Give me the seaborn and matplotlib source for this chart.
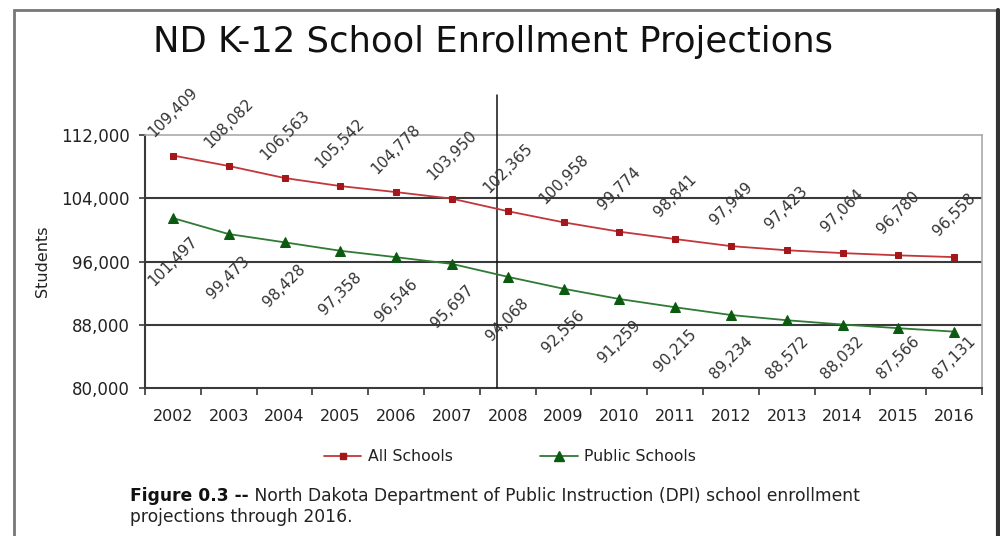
import matplotlib
matplotlib.use("Agg")
import matplotlib.pyplot as plt
from matplotlib.patches import Rectangle
from matplotlib.lines import Line2D
from matplotlib.ticker import FuncFormatter, FixedLocator
import seaborn as sns
import pandas as pd

# Enrollment data (actual through 2007, projected afterwards)
years = [2002, 2003, 2004, 2005, 2006, 2007, 2008, 2009,
         2010, 2011, 2012, 2013, 2014, 2015, 2016]
all_schools = [109409, 108082, 106563, 105542, 104778, 103950, 102365, 100958,
               99774, 98841, 97949, 97423, 97064, 96780, 96558]
public_schools = [101497, 99473, 98428, 97358, 96546, 95697, 94068, 92556,
                  91259, 90215, 89234, 88572, 88032, 87566, 87131]
y_ticks = [80000, 88000, 96000, 104000, 112000]
projection_start = 2007.8

title = "ND K-12 School Enrollment Projections"
y_label = "Students"
series_names = ["All Schools", "Public Schools"]
caption_bold = "Figure 0.3 --"
caption_rest = " North Dakota Department of Public Instruction (DPI) school enrollment"
caption_line2 = "projections through 2016."

red_line, red_mark = "#c2373a", "#a3161a"
green_line, green_mark = "#2f7a34", "#0b5a10"
label_color = "#333333"

sns.set_theme(style="white")
plt.rcParams["font.family"] = ["DejaVu Sans"]

df = pd.DataFrame({"year": years, "all": all_schools, "public": public_schools})

fig = plt.figure(figsize=(10, 5.36), dpi=100)
ax = fig.add_axes([0.145, 0.2761, 0.837, 0.472])

sns.lineplot(data=df, x="year", y="all", ax=ax, color=red_line, lw=1.3,
             marker="s", markersize=5, markerfacecolor=red_mark,
             markeredgecolor=red_mark, zorder=4)
sns.lineplot(data=df, x="year", y="public", ax=ax, color=green_line, lw=1.3,
             marker="^", markersize=7.5, markerfacecolor=green_mark,
             markeredgecolor=green_mark, zorder=4)

ax.set_xlim(2001.5, 2016.5)
ax.set_ylim(y_ticks[0], y_ticks[-1])

# gridlines drawn at the inner tick values
for v in y_ticks[1:-1]:
    ax.axhline(v, color="#3a3a3a", lw=1.5, zorder=2)

# divider between actual and projected years
ax.axvline(projection_start, ymin=0, ymax=1.158, color="#111111", lw=1.1,
           clip_on=False, zorder=3)

# spines
for side in ["left", "bottom"]:
    ax.spines[side].set_color("#3a3a3a")
    ax.spines[side].set_linewidth(1.5)
for side in ["top", "right"]:
    ax.spines[side].set_color("#aaaaaa")
    ax.spines[side].set_linewidth(1.2)

# ticks
ax.set_yticks(y_ticks)
ax.yaxis.set_major_formatter(FuncFormatter(lambda v, p: f"{int(v):,}"))
ax.tick_params(axis="y", which="major", left=True, length=4, width=1.2,
               color="#3a3a3a", pad=7, labelsize=12, labelcolor="#222222")
ax.set_xticks(years)
ax.set_xticklabels([str(y) for y in years])
ax.xaxis.set_minor_locator(FixedLocator([y - 0.5 for y in years] + [years[-1] + 0.5]))
ax.tick_params(axis="x", which="major", bottom=False, length=0, pad=15,
               labelsize=11.5, labelcolor="#222222")
ax.tick_params(axis="x", which="minor", bottom=True, length=5, width=1.2,
               color="#3a3a3a")

ax.set_xlabel("")
ax.set_ylabel(y_label, fontsize=11.5, color="#222222", labelpad=8)

# value labels
px = (y_ticks[-1] - y_ticks[0]) / 253.0
offset = 43 * px
floor = y_ticks[0] + 30 * px
for x, v in zip(years, all_schools):
    ax.text(x, v + offset, f"{v:,}", rotation=45, ha="center", va="center",
            fontsize=11, color=label_color, zorder=5, clip_on=False)
for x, v in zip(years, public_schools):
    ax.text(x, max(v - offset, floor), f"{v:,}", rotation=45, ha="center",
            va="center", fontsize=11, color=label_color, zorder=5)

# title
fig.text(0.493, 0.921, title, ha="center", va="center", fontsize=25.5,
         color="#111111")

# legend
handles = [
    Line2D([], [], color=red_line, lw=1.3, marker="s", markersize=5,
           markerfacecolor=red_mark, markeredgecolor=red_mark),
    Line2D([], [], color=green_line, lw=1.3, marker="^", markersize=7.5,
           markerfacecolor=green_mark, markeredgecolor=green_mark),
]
fig.legend(handles, series_names, loc="center", bbox_to_anchor=(0.510, 0.1474),
           ncol=2, frameon=False, fontsize=11.3, handlelength=2.4,
           handletextpad=0.4, columnspacing=5.6, labelcolor="#222222")

# caption
cap_size = 12.3
t1 = fig.text(0.130, 1 - 496 / 536, caption_bold, ha="left", va="center",
              fontsize=cap_size, fontweight="bold", color="#111111")
fig.canvas.draw()
bb = t1.get_window_extent()
fig.text(bb.x1 / fig.bbox.width, 1 - 496 / 536, caption_rest, ha="left",
         va="center", fontsize=cap_size, color="#222222")
fig.text(0.130, 1 - 517 / 536, caption_line2, ha="left", va="center",
         fontsize=cap_size, color="#222222")

# outer frame
fig.patches.append(Rectangle((0.0135, -0.05), 0.983, 1.05 - 10.5 / 536,
                             transform=fig.transFigure, fill=False,
                             edgecolor="#777777", lw=2))
fig.add_artist(Line2D([0.9975, 0.9975], [-0.01, 1 - 9.5 / 536],
                      transform=fig.transFigure, color="#333333", lw=3))

fig.savefig("out.png", dpi=100)
